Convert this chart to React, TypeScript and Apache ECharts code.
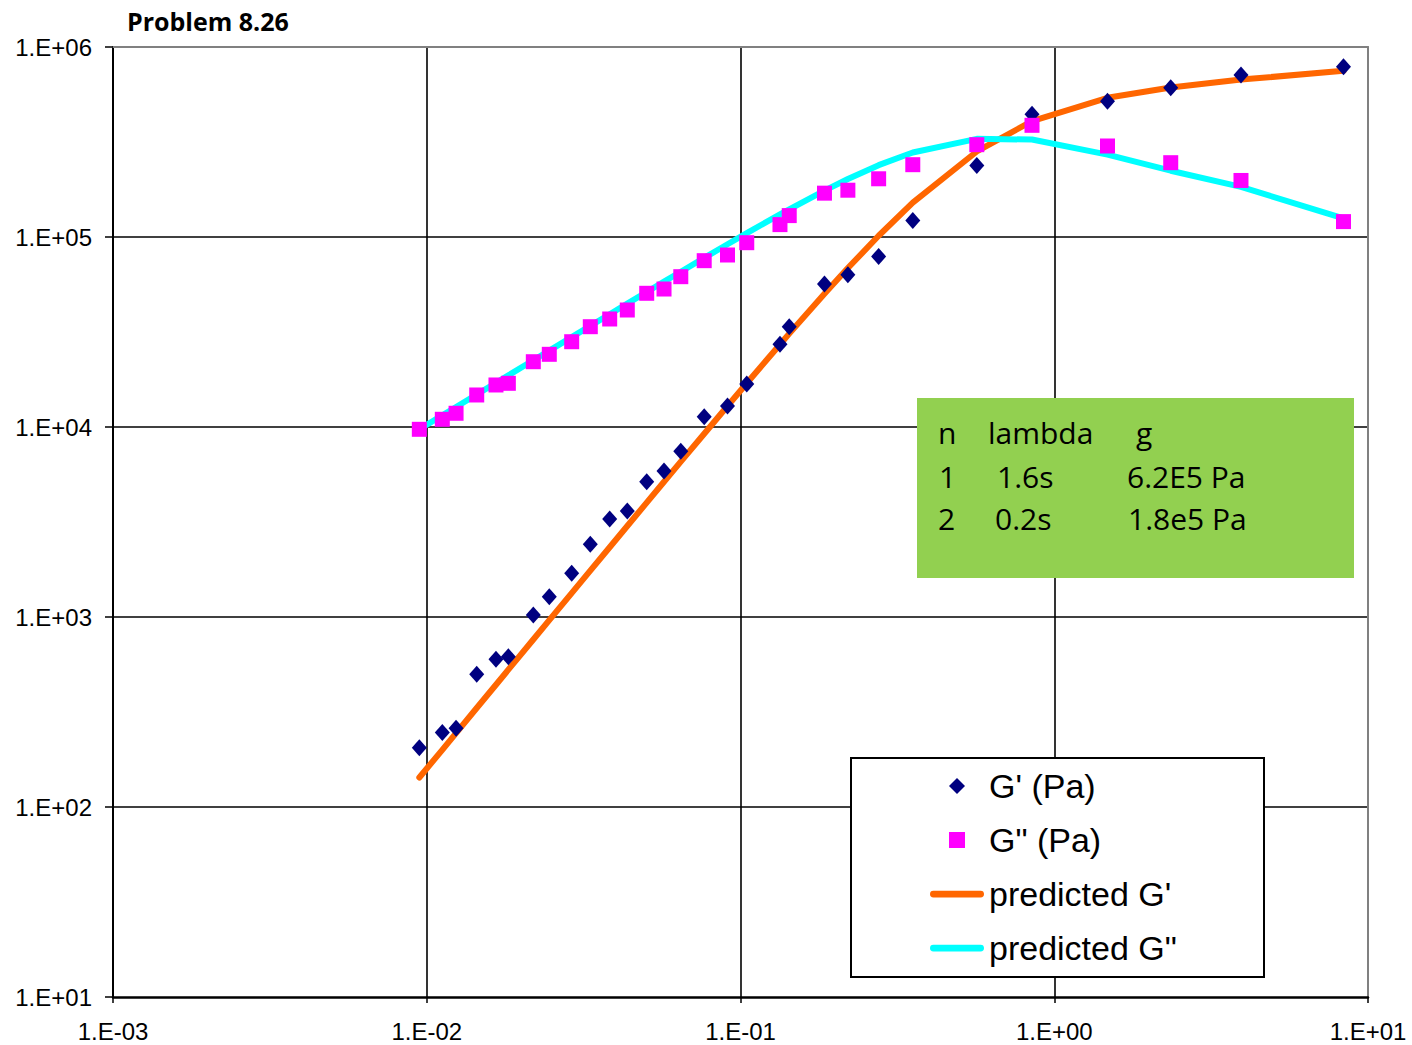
import React, { useEffect, useRef } from 'react';
import * as echarts from 'echarts';

// angular frequency (x values shared by all series)
const frequency = [
  0.00947, 0.01121, 0.0124, 0.01443, 0.01662, 0.0182, 0.02186, 0.02458, 0.02897, 0.03321,
  0.03829, 0.04357, 0.05024, 0.05705, 0.06452, 0.07662, 0.09091, 0.1047, 0.1336, 0.143,
  0.1852, 0.2199, 0.2756, 0.3541, 0.5664, 0.8494, 1.478, 2.351, 3.937, 8.354,
];

// measured G' (Pa)
const gPrimeMeasured = [
  205, 247, 260, 499, 599, 618, 1024, 1279, 1698, 2413,
  3280, 3613, 5153, 5867, 7458, 11330, 12900, 16840, 27240, 33720,
  56500, 63260, 79060, 122000, 238200, 442900, 518400, 610000, 711300, 786800,
];

// measured G" (Pa)
const gDoublePrimeMeasured = [
  9724, 10980, 11810, 14740, 16640, 16980, 22060, 24130, 28110, 33720,
  37020, 41280, 50550, 53240, 61820, 75060, 80400, 93330, 116200, 129600,
  170100, 176300, 202500, 240200, 306100, 387100, 301300, 246100, 198400, 120500,
];

// predicted G' (Pa)
const gPrimePredicted = [
  143, 200, 245, 332, 440, 528, 761, 962, 1335, 1754,
  2329, 3012, 4000, 5150, 6570, 9220, 12900, 17000, 27200, 31000,
  50300, 68600, 101500, 151600, 281900, 407300, 540400, 611700, 673600, 749100,
];

// predicted G" (Pa)
const gDoublePrimePredicted = [
  9733, 11520, 12740, 14830, 17070, 18690, 22450, 25230, 29720, 34050,
  39220, 44580, 51330, 58180, 65650, 77640, 91590, 104800, 131500, 139900,
  175500, 202000, 238800, 278600, 328600, 325700, 271300, 223300, 183500, 125400,
];

const xTickLabels = ['1.E-03', '1.E-02', '1.E-01', '1.E+00', '1.E+01'];
const yTickLabels = ['1.E+01', '1.E+02', '1.E+03', '1.E+04', '1.E+05', '1.E+06'];

const seriesNames = ["G' (Pa)", 'G" (Pa)', "predicted G'", 'predicted G"'];

const modeTable = [
  ['n', 'lambda', 'g'],
  ['1', '1.6s', '6.2E5 Pa'],
  ['2', '0.2s', '1.8e5 Pa'],
];

const titleText = 'Problem 8.26';

const NAVY = '#000080';
const MAGENTA = '#FF00FF';
const ORANGE = '#FF6600';
const CYAN = '#00FFFF';

export default function App() {
  const ref = useRef<HTMLDivElement>(null);

  useEffect(() => {
    if (!ref.current) return;
    const chart = echarts.init(ref.current, null, { renderer: 'svg' });

    const pairs = (ys: number[]) => frequency.map((x, i) => [x, ys[i]]);
    const xLabel = (v: number) => xTickLabels[Math.round(Math.log10(v)) + 3] ?? '';
    const yLabel = (v: number) => yTickLabels[Math.round(Math.log10(v)) - 1] ?? '';

    const colX = [
      [938, 988, 1136],
      [939, 997, 1127],
      [938, 995, 1128],
    ];
    const rowY = [432, 476, 518];
    const tableTexts: any[] = [];
    modeTable.forEach((row, r) => {
      row.forEach((cell, c) => {
        tableTexts.push({
          type: 'text',
          x: colX[r][c],
          y: rowY[r],
          z: 60,
          style: {
            text: cell,
            fill: '#000',
            font: '30px "Open Sans"',
            align: 'left',
            verticalAlign: 'middle',
          },
        });
      });
    });

    const axisFont = 'Liberation Sans';

    const option: any = {
      animation: false,
      backgroundColor: '#fff',
      grid: {
        left: 113,
        right: 44,
        top: 47,
        bottom: 48,
        containLabel: false,
        outerBoundsMode: 'none',
      },
      xAxis: [
        {
          type: 'log',
          logBase: 10,
          min: 0.001,
          max: 10,
          position: 'bottom',
          axisLine: { show: true, onZero: false, lineStyle: { color: '#000', width: 2.5 } },
          axisTick: { show: true, inside: false, length: 6, lineStyle: { color: '#000', width: 1.5 } },
          axisLabel: {
            show: true,
            formatter: xLabel,
            color: '#000',
            fontFamily: axisFont,
            fontSize: 24,
            margin: 34,
            verticalAlign: 'middle',
            showMinLabel: true,
            showMaxLabel: true,
          },
          splitLine: {
            show: true,
            showMinLine: false,
            showMaxLine: false,
            lineStyle: { color: '#000', width: 1.6 },
          },
          minorTick: { show: false },
          minorSplitLine: { show: false },
        },
        {
          type: 'log',
          logBase: 10,
          min: 0.001,
          max: 10,
          position: 'top',
          axisLine: { show: true, onZero: false, lineStyle: { color: '#808080', width: 2 } },
          axisTick: { show: false },
          axisLabel: { show: false },
          splitLine: { show: false },
        },
      ],
      yAxis: [
        {
          type: 'log',
          logBase: 10,
          min: 10,
          max: 1000000,
          position: 'left',
          axisLine: { show: true, onZero: false, lineStyle: { color: '#000', width: 2 } },
          axisTick: { show: true, inside: false, length: 8, lineStyle: { color: '#000', width: 1.5 } },
          axisLabel: {
            show: true,
            formatter: yLabel,
            color: '#000',
            fontFamily: axisFont,
            fontSize: 24,
            margin: 21,
            showMinLabel: true,
            showMaxLabel: true,
          },
          splitLine: {
            show: true,
            showMinLine: false,
            showMaxLine: false,
            lineStyle: { color: '#000', width: 1.6 },
          },
          minorTick: { show: false },
          minorSplitLine: { show: false },
        },
        {
          type: 'log',
          logBase: 10,
          min: 10,
          max: 1000000,
          position: 'right',
          axisLine: { show: true, onZero: false, lineStyle: { color: '#808080', width: 2 } },
          axisTick: { show: false },
          axisLabel: { show: false },
          splitLine: { show: false },
        },
      ],
      legend: {
        show: true,
        orient: 'vertical',
        left: 930,
        top: 768,
        padding: 0,
        itemGap: 18,
        itemWidth: 54,
        itemHeight: 16,
        symbolKeepAspect: true,
        selectedMode: false,
        z: 70,
        textStyle: {
          color: '#000',
          fontFamily: axisFont,
          fontSize: 34,
          lineHeight: 36,
        },
        data: [
          {
            name: seriesNames[0],
            icon: 'path://M8,0L16,8L8,16L0,8Z',
            itemStyle: { color: NAVY, borderWidth: 0 },
          },
          {
            name: seriesNames[1],
            icon: 'path://M0,0H15V15H0Z',
            itemStyle: { color: MAGENTA, borderWidth: 0 },
          },
          {
            name: seriesNames[2],
            icon: 'path://M3.5,0H52.5A3.5,3.5 0 0 1 52.5,7H3.5A3.5,3.5 0 0 1 3.5,0Z',
            itemStyle: { color: ORANGE, borderWidth: 0 },
          },
          {
            name: seriesNames[3],
            icon: 'path://M3.5,0H52.5A3.5,3.5 0 0 1 52.5,7H3.5A3.5,3.5 0 0 1 3.5,0Z',
            itemStyle: { color: CYAN, borderWidth: 0 },
          },
        ],
      },
      graphic: [
        {
          type: 'text',
          x: 127,
          y: 21,
          z: 60,
          style: {
            text: titleText,
            fill: '#000',
            font: 'bold 25px "Open Sans"',
            align: 'left',
            verticalAlign: 'middle',
          },
        },
        {
          type: 'rect',
          z: 50,
          shape: { x: 917, y: 398, width: 437, height: 180 },
          style: { fill: '#92D050', stroke: 'none' },
        },
        ...tableTexts,
        {
          type: 'rect',
          z: 50,
          shape: { x: 851, y: 758, width: 413, height: 219 },
          style: { fill: '#fff', stroke: '#000', lineWidth: 2 },
        },
      ],
      series: [
        {
          name: seriesNames[2],
          type: 'line',
          xAxisIndex: 0,
          yAxisIndex: 0,
          data: pairs(gPrimePredicted),
          symbol: 'none',
          showSymbol: false,
          color: ORANGE,
          lineStyle: { color: ORANGE, width: 6, cap: 'round', join: 'round' },
          itemStyle: { color: ORANGE },
          z: 2,
        },
        {
          name: seriesNames[3],
          type: 'line',
          xAxisIndex: 0,
          yAxisIndex: 0,
          data: pairs(gDoublePrimePredicted),
          symbol: 'none',
          showSymbol: false,
          color: CYAN,
          lineStyle: { color: CYAN, width: 6, cap: 'round', join: 'round' },
          itemStyle: { color: CYAN },
          z: 2,
        },
        {
          name: seriesNames[0],
          type: 'scatter',
          xAxisIndex: 0,
          yAxisIndex: 0,
          data: pairs(gPrimeMeasured),
          symbol: 'diamond',
          symbolSize: [15, 17],
          itemStyle: { color: NAVY, opacity: 1 },
          z: 4,
        },
        {
          name: seriesNames[1],
          type: 'scatter',
          xAxisIndex: 0,
          yAxisIndex: 0,
          data: pairs(gDoublePrimeMeasured),
          symbol: 'rect',
          symbolSize: 15,
          itemStyle: { color: MAGENTA, opacity: 1 },
          z: 4,
        },
      ],
    };

    chart.setOption(option);
    return () => chart.dispose();
  }, []);

  return (
    <div
      ref={ref}
      style={{ position: 'absolute', left: 0, top: 0, width: 1412, height: 1045 }}
    />
  );
}
